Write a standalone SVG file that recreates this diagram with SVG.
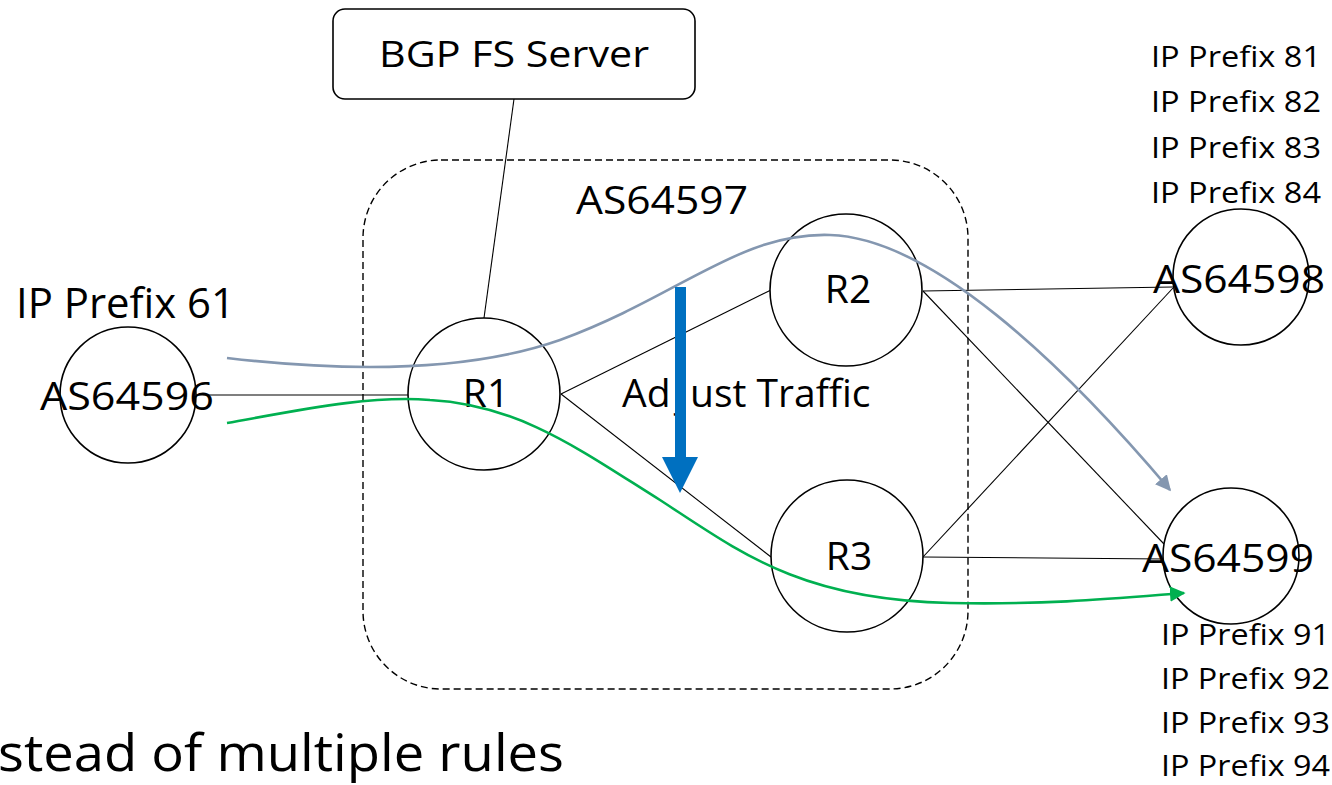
<svg xmlns="http://www.w3.org/2000/svg" width="1332" height="785" viewBox="0 0 1332 785">
<defs>
<style>
text{font-family:"Open Sans","Noto Sans","Liberation Sans",sans-serif;fill:#000}
.node{fill:#fff;stroke:#000;stroke-width:1.6}
.lbl{font-size:39px}
.small{font-size:30px}
.link{stroke:#000;stroke-width:1.1;fill:none}
</style>
<marker id="arrGray" viewBox="0 0 10 10" refX="9" refY="5" markerWidth="6" markerHeight="6" markerUnits="strokeWidth" orient="auto">
<path d="M0,0 L10,5 L0,10 z" fill="#8497B0"/>
</marker>
<marker id="arrGreen" viewBox="0 0 10 10" refX="9" refY="5" markerWidth="6" markerHeight="6" markerUnits="strokeWidth" orient="auto">
<path d="M0,0 L10,5 L0,10 z" fill="#00B050"/>
</marker>
</defs>
<rect width="1332" height="785" fill="#fff"/>

<g id="as64597-domain">
<rect x="363" y="160" width="605" height="529" rx="78" ry="78" fill="none" stroke="#000" stroke-width="1.4" stroke-dasharray="7,4"/>
<text class="lbl" x="576" y="214" textLength="172" lengthAdjust="spacingAndGlyphs">AS64597</text>
</g>

<g id="connectors">
<line class="link" x1="514" y1="99" x2="484" y2="318"/>
<line class="link" x1="196" y1="395" x2="408" y2="395"/>
<line class="link" x1="561" y1="394" x2="771" y2="290"/>
<line class="link" x1="561" y1="394" x2="771" y2="557"/>
<line class="link" x1="923" y1="291" x2="1173" y2="287"/>
<line class="link" x1="923" y1="291" x2="1164" y2="544"/>
<line class="link" x1="923" y1="557" x2="1173" y2="288"/>
<line class="link" x1="923" y1="557" x2="1165" y2="559"/>
</g>

<g id="bgp-fs-server">
<rect x="333" y="9" width="362" height="90" rx="12" ry="12" class="node"/>
<text x="514" y="67" font-size="36" text-anchor="middle" textLength="270" lengthAdjust="spacingAndGlyphs">BGP FS Server</text>
</g>

<g id="as64596">
<circle cx="128" cy="395" r="68" class="node"/>
<text class="lbl" x="40" y="410" textLength="174" lengthAdjust="spacingAndGlyphs">AS64596</text>
<text x="16" y="318" font-size="42" textLength="219" lengthAdjust="spacingAndGlyphs">IP Prefix 61</text>
</g>

<g id="r1">
<circle cx="484" cy="394" r="76" class="node"/>
<text class="lbl" x="486" y="407" text-anchor="middle">R1</text>
</g>

<g id="r2">
<circle cx="846" cy="290" r="76" class="node"/>
<text class="lbl" x="848" y="303" text-anchor="middle">R2</text>
</g>

<g id="r3">
<circle cx="847" cy="556" r="76" class="node"/>
<text class="lbl" x="849" y="570" text-anchor="middle">R3</text>
</g>

<g id="as64598">
<circle cx="1241" cy="277" r="68" class="node"/>
<text class="lbl" x="1153" y="293" textLength="172" lengthAdjust="spacingAndGlyphs">AS64598</text>
<text class="small" x="1151" y="67" textLength="170" lengthAdjust="spacingAndGlyphs">IP Prefix 81</text>
<text class="small" x="1151" y="112" textLength="170" lengthAdjust="spacingAndGlyphs">IP Prefix 82</text>
<text class="small" x="1151" y="158" textLength="170" lengthAdjust="spacingAndGlyphs">IP Prefix 83</text>
<text class="small" x="1151" y="203" textLength="170" lengthAdjust="spacingAndGlyphs">IP Prefix 84</text>
</g>

<g id="as64599">
<circle cx="1231" cy="556" r="68" class="node"/>
<text class="lbl" x="1142" y="572" textLength="172" lengthAdjust="spacingAndGlyphs">AS64599</text>
<text class="small" x="1161" y="645" textLength="169" lengthAdjust="spacingAndGlyphs">IP Prefix 91</text>
<text class="small" x="1161" y="689" textLength="169" lengthAdjust="spacingAndGlyphs">IP Prefix 92</text>
<text class="small" x="1161" y="733" textLength="169" lengthAdjust="spacingAndGlyphs">IP Prefix 93</text>
<text class="small" x="1161" y="776" textLength="169" lengthAdjust="spacingAndGlyphs">IP Prefix 94</text>
</g>

<g id="traffic-flows">
<path d="M227,358 C330,370 460,375 560,340 C680,296 740,232 830,235 C930,238 1060,360 1170,490" fill="none" stroke="#8497B0" stroke-width="2.6" marker-end="url(#arrGray)"/>
<path d="M227,423 C300,410 370,395 430,400 C520,405 580,450 660,500 C740,552 800,600 950,603 C1050,605 1120,598 1184,593" fill="none" stroke="#00B050" stroke-width="2.6" marker-end="url(#arrGreen)"/>
</g>

<g id="adjust-traffic">
<text class="lbl" y="407"><tspan x="622">Ad</tspan><tspan x="676">j</tspan><tspan x="690">ust Traffic</tspan></text>
<polygon points="675,287 686,287 686,457 698,457 680,493 662,457 675,457" fill="#0070C0"/>
</g>

<g id="caption">
<text x="-2" y="771" font-size="52" textLength="566" lengthAdjust="spacingAndGlyphs">stead of multiple rules</text>
</g>
</svg>
